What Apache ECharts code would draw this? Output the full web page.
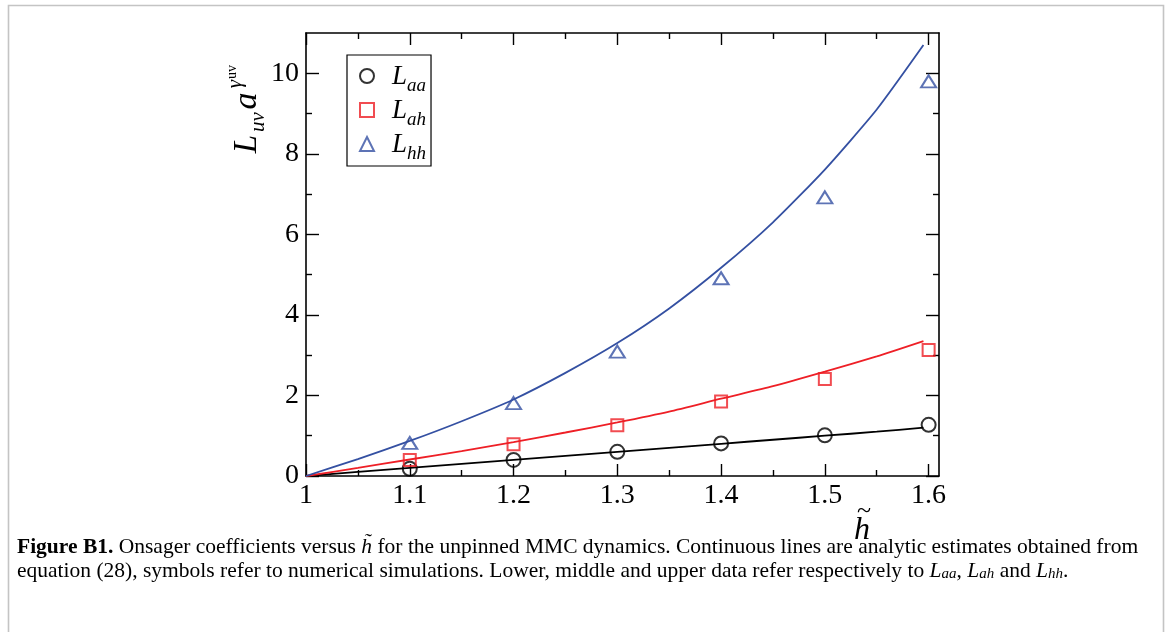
<!DOCTYPE html>
<html><head><meta charset="utf-8">
<script src="https://cdn.jsdelivr.net/npm/echarts@6/dist/echarts.min.js"></script>
<style>html,body{margin:0;padding:0;background:#fff}#c{width:1171px;height:632px}</style>
</head><body><div id="c"></div>
<script>
// simulation points (symbols)
const hSim = [1.1, 1.2, 1.3, 1.4, 1.5, 1.6];
const LaaSim = [0.18, 0.40, 0.60, 0.81, 1.01, 1.27];
const LahSim = [0.40, 0.79, 1.26, 1.85, 2.41, 3.13];
const LhhSim = [0.82, 1.81, 3.09, 4.91, 6.92, 9.80];
// analytic estimates (continuous lines)
const hFit = [1.0, 1.05, 1.1, 1.15, 1.2, 1.25, 1.3, 1.35, 1.4, 1.45, 1.5, 1.55, 1.595];
const LaaFit = [0, 0.10, 0.20, 0.30, 0.40, 0.50, 0.60, 0.70, 0.80, 0.90, 1.00, 1.10, 1.20];
const LahFit = [0, 0.20, 0.41, 0.62, 0.84, 1.08, 1.33, 1.60, 1.92, 2.23, 2.59, 2.97, 3.35];
const LhhFit = [0, 0.42, 0.87, 1.36, 1.90, 2.56, 3.30, 4.16, 5.17, 6.30, 7.61, 9.10, 10.70];
// ticks
const xMajor = [1, 1.1, 1.2, 1.3, 1.4, 1.5, 1.6];
const xMinor = [1.05, 1.15, 1.25, 1.35, 1.45, 1.55];
const yMajor = [0, 2, 4, 6, 8, 10];
const yMinor = [1, 3, 5, 7, 9];

const SERIF = '"Liberation Serif","DejaVu Serif",serif';
const BLACK = '#000000', RED = '#ee1f26', BLUE = '#3450a2';
const X_MIN = 1, X_MAX = 1.61, Y_MIN = 0, Y_MAX = 11;

function fmt(v) { return String(+(+v).toFixed(2)); }

function axis(kind, pos, ticks, len, showLine, showLabel) {
  return {
    type: 'value', position: pos,
    min: kind === 'x' ? X_MIN : Y_MIN, max: kind === 'x' ? X_MAX : Y_MAX,
    axisLine: { show: showLine, onZero: false, lineStyle: { color: BLACK, width: 1.6 } },
    axisTick: { show: true, inside: true, length: len, customValues: ticks, lineStyle: { color: BLACK, width: 1.4 } },
    axisLabel: { show: showLabel, customValues: ticks, formatter: fmt, fontFamily: SERIF, fontSize: 28, color: BLACK, margin: kind === 'x' ? 6 : 7 },
    splitLine: { show: false }, minorTick: { show: false }, minorSplitLine: { show: false }
  };
}

const chart = echarts.init(document.getElementById('c'), null, { renderer: 'canvas' });

function pairs(xs, ys) { return xs.map((x, i) => [x, ys[i]]); }

const lineCommon = { type: 'line', showSymbol: false, symbol: 'none', smooth: 0.2, silent: true, z: 2, xAxisIndex: 0, yAxisIndex: 0 };
const scatterCommon = { type: 'scatter', z: 3, silent: true, xAxisIndex: 0, yAxisIndex: 0 };

const subMap = { Laa: 'aa', Lah: 'ah', Lhh: 'hh' };
const CAP = 21.5, CAPLH = 24;

chart.setOption({
  animation: false,
  backgroundColor: '#ffffff',
  grid: { left: 306, right: 232, top: 33, bottom: 156, outerBoundsMode: 'none', containLabel: false },
  xAxis: [
    axis('x', 'bottom', xMajor, 12, true, true),
    axis('x', 'bottom', xMinor, 6, false, false),
    axis('x', 'top', xMajor, 12, true, false),
    axis('x', 'top', xMinor, 6, false, false)
  ],
  yAxis: [
    axis('y', 'left', yMajor, 13, true, true),
    axis('y', 'left', yMinor, 6, false, false),
    axis('y', 'right', yMajor, 13, true, false),
    axis('y', 'right', yMinor, 6, false, false)
  ],
  legend: {
    show: true, orient: 'vertical', left: 347, top: 55,
    data: ['Laa', 'Lah', 'Lhh'], selectedMode: false,
    itemWidth: 14, itemHeight: 14, itemGap: 2,
    padding: [8, 5, 3, 12],
    borderColor: BLACK, borderWidth: 1.2, backgroundColor: '#fff',
    formatter: n => '{L|L}{s|' + subMap[n] + '}',
    textStyle: {
      rich: {
        L: { fontFamily: SERIF, fontStyle: 'italic', fontSize: 27, lineHeight: 26, verticalAlign: 'top', color: BLACK, padding: [0, 0, 0, 13] },
        s: { fontFamily: SERIF, fontStyle: 'italic', fontSize: 19, lineHeight: 26, verticalAlign: 'top', color: BLACK, padding: [13, 0, 0, 0] }
      }
    }
  },
  series: [
    Object.assign({ name: 'LaaFit', data: pairs(hFit, LaaFit), lineStyle: { color: BLACK, width: 1.8 }, itemStyle: { color: BLACK } }, lineCommon),
    Object.assign({ name: 'LahFit', data: pairs(hFit, LahFit), lineStyle: { color: RED, width: 1.8 }, itemStyle: { color: RED } }, lineCommon),
    Object.assign({ name: 'LhhFit', data: pairs(hFit, LhhFit), lineStyle: { color: BLUE, width: 1.8 }, itemStyle: { color: BLUE } }, lineCommon),
    Object.assign({ name: 'Laa', data: pairs(hSim, LaaSim), symbol: 'circle', symbolSize: 14,
      itemStyle: { color: 'rgba(255,255,255,0)', borderColor: BLACK, borderWidth: 2 } }, scatterCommon),
    Object.assign({ name: 'Lah', data: pairs(hSim, LahSim), symbol: 'rect', symbolSize: 12,
      itemStyle: { color: 'rgba(255,255,255,0)', borderColor: RED, borderWidth: 2 } }, scatterCommon),
    Object.assign({ name: 'Lhh', data: pairs(hSim, LhhSim), symbol: 'triangle', symbolSize: [15, 12],
      itemStyle: { color: 'rgba(255,255,255,0)', borderColor: BLUE, borderWidth: 2 } }, scatterCommon)
  ],
  graphic: [
    { type: 'rect', shape: { x: 8.5, y: 5.5, width: 1155, height: 700 }, style: { fill: 'none', stroke: '#c4c4c4', lineWidth: 1.6 }, silent: true, z: -10 },
    // y-axis title pieces (rotated)
    { type: 'text', x: 247, y: 144, rotation: Math.PI / 2, style: { text: 'L', font: 'italic 33px ' + SERIF, fill: BLACK, align: 'center', verticalAlign: 'middle' } },
    { type: 'text', x: 258, y: 122, rotation: Math.PI / 2, style: { text: 'uv', font: 'italic 21px ' + SERIF, fill: BLACK, align: 'center', verticalAlign: 'middle' } },
    { type: 'text', x: 247, y: 101, rotation: Math.PI / 2, style: { text: 'a', font: 'italic 34px ' + SERIF, fill: BLACK, align: 'center', verticalAlign: 'middle' } },
    { type: 'text', x: 235, y: 84, rotation: Math.PI / 2, style: { text: 'γ', font: 'italic 21px ' + SERIF, fill: BLACK, align: 'center', verticalAlign: 'middle' } },
    { type: 'text', x: 232, y: 72, rotation: Math.PI / 2, style: { text: 'uv', font: '14px ' + SERIF, fill: BLACK, align: 'center', verticalAlign: 'middle' } },
    // x-axis title
    { type: 'text', x: 862, y: 531, style: { text: 'h', font: 'italic 32px ' + SERIF, fill: BLACK, align: 'center', verticalAlign: 'middle' } },
    { type: 'text', x: 864, y: 511, style: { text: '~', font: '26px ' + SERIF, fill: BLACK, align: 'center', verticalAlign: 'middle' } },
    // caption
    { type: 'text', x: 17, y: 548, style: {
      text: '{b|Figure B1.}{n| Onsager coefficients versus }{i|h\u0303}{n| for the unpinned MMC dynamics. Continuous lines are analytic estimates obtained from}',
      verticalAlign: 'middle', align: 'left',
      rich: {
        b: { fontFamily: SERIF, fontWeight: 'bold', fontSize: CAP, lineHeight: CAPLH, verticalAlign: 'top', color: BLACK },
        n: { fontFamily: SERIF, fontSize: CAP, lineHeight: CAPLH, verticalAlign: 'top', color: BLACK },
        i: { fontFamily: SERIF, fontStyle: 'italic', fontSize: CAP, lineHeight: CAPLH, verticalAlign: 'top', color: BLACK }
      } } },
    { type: 'text', x: 17, y: 572, style: {
      text: '{n|equation (}{c|28}{n|), symbols refer to numerical simulations. Lower, middle and upper data refer respectively to }{i|L}{s|aa}{n|, }{i|L}{s|ah}{n| and }{i|L}{s|hh}{n|.}',
      verticalAlign: 'middle', align: 'left',
      rich: {
        n: { fontFamily: SERIF, fontSize: CAP, lineHeight: CAPLH, verticalAlign: 'top', color: BLACK },
        c: { fontFamily: SERIF, fontSize: CAP, lineHeight: CAPLH, verticalAlign: 'top', color: '#2a8bc4' },
        i: { fontFamily: SERIF, fontStyle: 'italic', fontSize: CAP, lineHeight: CAPLH, verticalAlign: 'top', color: BLACK },
        s: { fontFamily: SERIF, fontStyle: 'italic', fontSize: 15, lineHeight: CAPLH, verticalAlign: 'top', color: BLACK, padding: [7, 0, 0, 0] }
      } } }
  ]
});
</script>
</body></html>
